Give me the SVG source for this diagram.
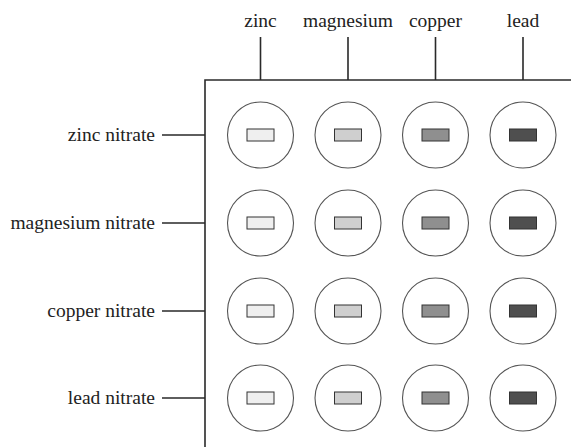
<svg xmlns="http://www.w3.org/2000/svg" width="571" height="447" viewBox="0 0 571 447">
<style>
text{font-family:"Liberation Serif","Times New Roman",serif;font-size:19.5px;fill:#222}
.top{text-anchor:middle}
.left{text-anchor:end}
.ln{stroke:#2a2a2a;stroke-width:1.6;fill:none}
.well{fill:#fff;stroke:#555;stroke-width:1.1}
.chip{stroke:#333;stroke-width:1}
.c1{fill:#efefef}.c2{fill:#cfcfcf}.c3{fill:#8f8f8f}.c4{fill:#4f4f4f}
</style>
<defs>
<circle id="w" r="33" class="well"/>
</defs>
<g id="plate"><path class="ln" d="M205,447 V80 H571"/></g>
<g id="connectors">
<path class="ln" d="M260.5,37 V80 M348,37 V80 M435.5,37 V80 M523,37 V80"/>
<path class="ln" d="M162,135 H205 M162,223 H205 M162,311 H205 M162,398 H205"/>
</g>
<g id="labels-top">
<text class="top" x="260.5" y="27">zinc</text>
<text class="top" x="348" y="27">magnesium</text>
<text class="top" x="435.5" y="27">copper</text>
<text class="top" x="523" y="27">lead</text>
</g>
<g id="labels-left">
<text class="left" x="155" y="141">zinc nitrate</text>
<text class="left" x="155" y="229">magnesium nitrate</text>
<text class="left" x="155" y="317">copper nitrate</text>
<text class="left" x="155" y="404">lead nitrate</text>
</g>
<g id="wells">
<g id="row1">
<use href="#w" x="260.5" y="135"/><rect class="chip c1" x="247" y="129" width="27" height="12"/>
<use href="#w" x="348" y="135"/><rect class="chip c2" x="334.5" y="129" width="27" height="12"/>
<use href="#w" x="435.5" y="135"/><rect class="chip c3" x="422" y="129" width="27" height="12"/>
<use href="#w" x="523" y="135"/><rect class="chip c4" x="509.5" y="129" width="27" height="12"/>
</g>
<g id="row2">
<use href="#w" x="260.5" y="223"/><rect class="chip c1" x="247" y="217" width="27" height="12"/>
<use href="#w" x="348" y="223"/><rect class="chip c2" x="334.5" y="217" width="27" height="12"/>
<use href="#w" x="435.5" y="223"/><rect class="chip c3" x="422" y="217" width="27" height="12"/>
<use href="#w" x="523" y="223"/><rect class="chip c4" x="509.5" y="217" width="27" height="12"/>
</g>
<g id="row3">
<use href="#w" x="260.5" y="311"/><rect class="chip c1" x="247" y="305" width="27" height="12"/>
<use href="#w" x="348" y="311"/><rect class="chip c2" x="334.5" y="305" width="27" height="12"/>
<use href="#w" x="435.5" y="311"/><rect class="chip c3" x="422" y="305" width="27" height="12"/>
<use href="#w" x="523" y="311"/><rect class="chip c4" x="509.5" y="305" width="27" height="12"/>
</g>
<g id="row4">
<use href="#w" x="260.5" y="398"/><rect class="chip c1" x="247" y="392" width="27" height="12"/>
<use href="#w" x="348" y="398"/><rect class="chip c2" x="334.5" y="392" width="27" height="12"/>
<use href="#w" x="435.5" y="398"/><rect class="chip c3" x="422" y="392" width="27" height="12"/>
<use href="#w" x="523" y="398"/><rect class="chip c4" x="509.5" y="392" width="27" height="12"/>
</g>
</g>
</svg>
